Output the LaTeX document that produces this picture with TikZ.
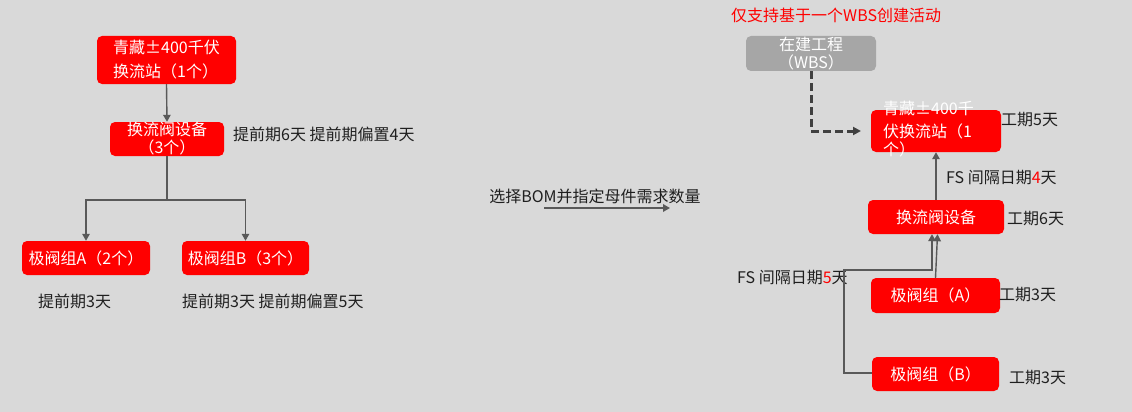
\documentclass[tikz,border=0pt]{standalone}
\usepackage{fontspec}
\setmainfont{Noto Sans CJK SC}
\usetikzlibrary{arrows.meta}
\definecolor{bg}{HTML}{D9D9D9}
\definecolor{boxred}{HTML}{FF0000}
\definecolor{boxgray}{HTML}{A6A6A6}
\definecolor{conn}{HTML}{595959}
\definecolor{dconn}{HTML}{404040}
\definecolor{txt}{HTML}{1F1F1F}
\tikzset{
  redbox/.style={fill=boxred, rounded corners=5pt, text=white, inner sep=0pt,
    font=\fontsize{16}{18}\selectfont, align=center},
  graybox/.style={fill=boxgray, rounded corners=5pt, text=white, inner sep=0pt,
    font=\fontsize{16}{18}\selectfont, align=center},
  lbl/.style={text=txt, inner sep=0pt, anchor=west, font=\fontsize{16}{18}\selectfont},
  wline/.style={text=white, inner sep=0pt, anchor=west, font=\fontsize{16}{18}\selectfont},
  conn/.style={draw=conn, line width=1.4pt},
  arr/.style={conn, -{Triangle[length=7pt,width=7.5pt]}},
  dasharr/.style={draw=dconn, line width=3pt, dash pattern=on 8pt off 4pt,
    -{Triangle[length=8pt,width=8pt]}}
}
\begin{document}
\begin{tikzpicture}[x=1pt,y=-1pt]
\fill[bg] (0,0) rectangle (1132,412);
\useasboundingbox (0,0) rectangle (1132,412);

% ---------- left tree ----------
\node[redbox, minimum width=139pt, minimum height=48pt, align=left,
  font=\fontsize{16}{24}\selectfont] (n1) at (166.5,60) {青藏±400千伏\\换流站（1个）};
\node[redbox, minimum width=114pt, minimum height=34pt] (n2) at (167,139) {换流阀设备\\（3个）};
\node[redbox, minimum width=128pt, minimum height=34pt] (nA) at (86,258) {极阀组A（2个）};
\node[redbox, minimum width=127pt, minimum height=34pt] (nB) at (245.5,258) {极阀组B（3个）};
\coordinate (j) at (167,200);
\draw[arr] (n1.south) -- (n2.north);
\draw[conn] (n2.south) -- (j);
\draw[arr] (j) -| (nA.north);
\draw[arr] (j) -| (nB.north);
\node[lbl] (l2) at (233,134) {提前期6天 提前期偏置4天};
\node[lbl] (lA) at (38,301) {提前期3天};
\node[lbl] (lB) at (182,301) {提前期3天 提前期偏置5天};

% ---------- middle ----------
\node[text=txt, inner sep=0pt, font=\fontsize{16}{18}\selectfont] (mid) at (595,196) {选择BOM并指定母件需求数量};
\coordinate (m1) at (544,208);
\coordinate (m2) at (670,208);
\draw[arr, line width=1.8pt] (m1) -- (m2);

% ---------- right ----------
\node[lbl, text=boxred] (title) at (731,15) {仅支持基于一个WBS创建活动};
\node[graybox, minimum width=130pt, minimum height=35pt] (wbs) at (811,53.5) {在建工程\\（WBS）};
\node[fill=boxred, rounded corners=5pt, minimum width=130pt, minimum height=42pt, inner sep=0pt] (r1) at (936,131) {};
\node[wline] (r1a) at (883,108) {青藏±400千};
\node[wline] (r1b) at (883,131) {伏换流站（1};
\node[wline] (r1c) at (883,149) {个）};
\node[redbox, minimum width=136pt, minimum height=34pt] (r2) at (936,217) {换流阀设备};
\node[redbox, minimum width=129pt, minimum height=35pt] (rA) at (935.5,295.5) {极阀组（A）};
\node[redbox, minimum width=127pt, minimum height=34pt] (rB) at (935.5,374) {极阀组（B）};

\node[lbl] (k1) at (1001,120) {工期5天};
\node[lbl] (k2) at (1007,219) {工期6天};
\node[lbl] (kA) at (999,295) {工期3天};
\node[lbl] (kB) at (1009,378) {工期3天};
\node[lbl] (fs4) at (946,178) {FS 间隔日期\textcolor{boxred}{4}天};
\node[lbl] (fs5) at (737,278) {FS 间隔日期\textcolor{boxred}{5}天};

\coordinate (d1) at (811,131);
\coordinate (d2) at (861,131);
\draw[dasharr] (wbs.south) -- (d1) -- (d2);

\draw[arr] (r2.north) -- (r1.south);
\draw[arr] (rA.north) -- ([xshift=1.5pt]r2.south);
\coordinate (b1) at (844,373);
\coordinate (b2) at (844,270);
\coordinate (b3) at (932,270);
\draw[arr] (rB.west |- b1) -- (b1) -- (b2) -- (b3) -- (b3 |- r2.south);
\end{tikzpicture}
\end{document}
